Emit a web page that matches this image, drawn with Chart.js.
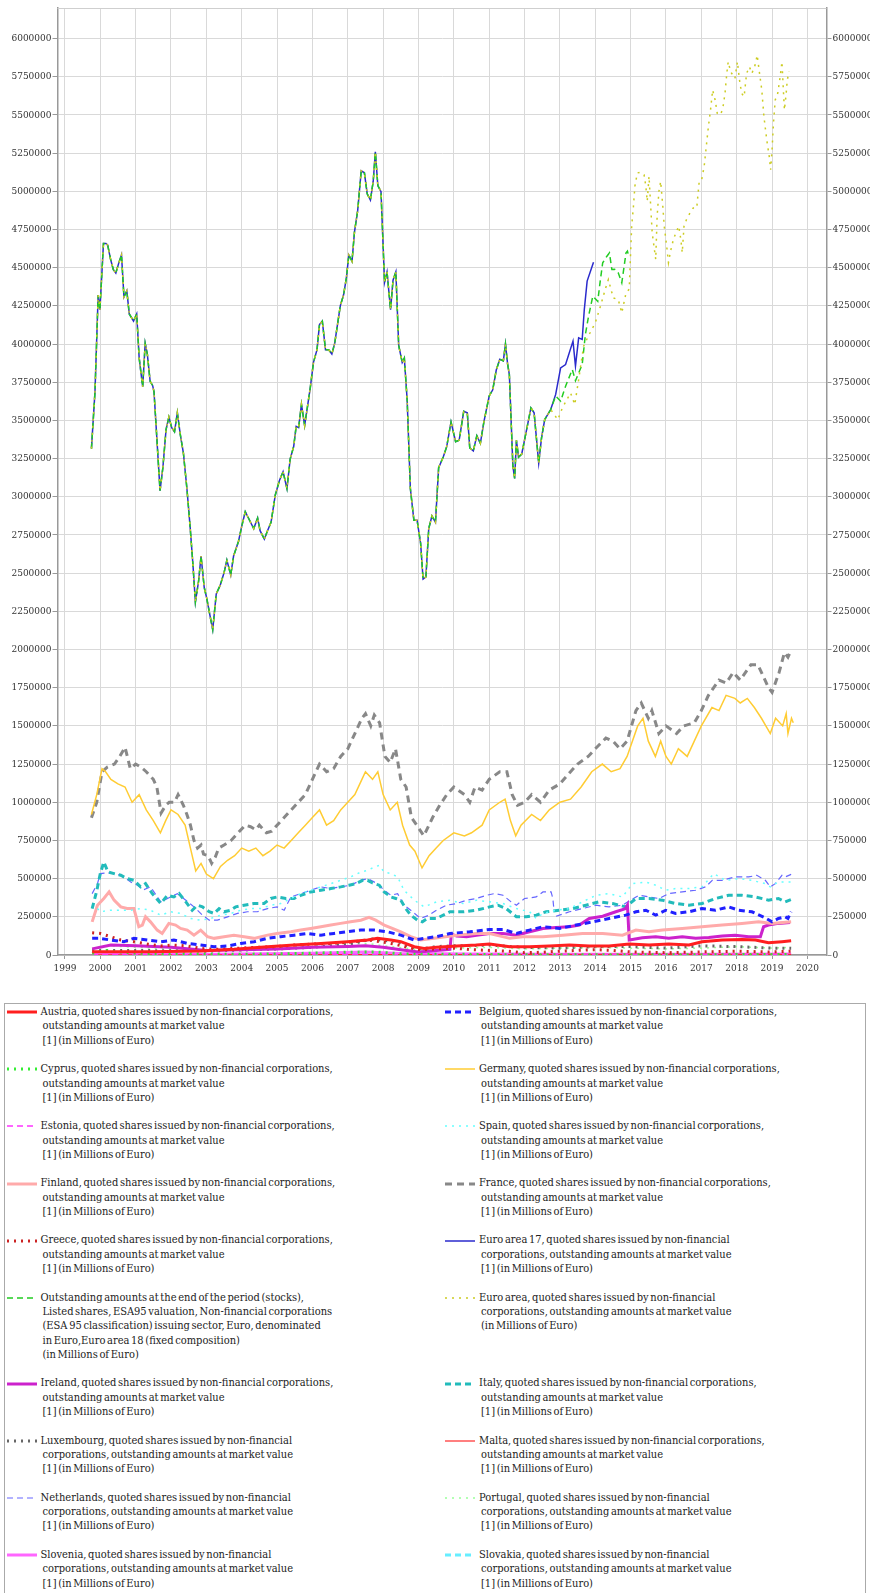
<!DOCTYPE html>
<html><head><meta charset="utf-8">
<script src="https://cdn.jsdelivr.net/npm/chart.js@4.4.1/dist/chart.umd.min.js"></script>
<style>
html,body{margin:0;padding:0;background:#fff;}
#wrap{position:relative;width:870px;height:1593px;overflow:hidden;background:#fff;}
#c{position:absolute;left:0;top:0;}
#legbox{position:absolute;left:4px;top:1003px;width:862px;height:620px;border:1.5px solid #aaa;box-sizing:border-box;}
.lt{position:absolute;font:11px 'DejaVu Serif Condensed','DejaVu Serif',serif;color:#222;line-height:14.4px;white-space:nowrap;word-spacing:-1.5px;}
.lt div+div{padding-left:2px;}
.ls{position:absolute;}
</style></head>
<body><div id="wrap"><canvas id="c" width="870" height="985"></canvas><div id="legbox"></div></div>
<script>
// ---- axis ticks ----
const yearTicks = [1999,2000,2001,2002,2003,2004,2005,2006,2007,2008,2009,2010,2011,2012,2013,2014,2015,2016,2017,2018,2019,2020];
const valueTicks = [0,250000,500000,750000,1000000,1250000,1500000,1750000,2000000,2250000,2500000,2750000,3000000,3250000,3500000,3750000,4000000,4250000,4500000,4750000,5000000,5250000,5500000,5750000,6000000];

// ---- data: [decimal year, millions of euro] ----
const bigShared = [[1999.75,3315000],[1999.85,3687000],[1999.94,4321000],[1999.99,4225000],[2000.09,4658000],[2000.16,4658000],[2000.21,4647000],[2000.29,4556000],[2000.37,4487000],[2000.44,4465000],[2000.52,4528000],[2000.6,4583000],[2000.67,4308000],[2000.75,4349000],[2000.82,4197000],[2000.94,4150000],[2001.03,4197000],[2001.1,3908000],[2001.2,3720000],[2001.27,4004000],[2001.33,3935000],[2001.41,3756000],[2001.48,3729000],[2001.52,3687000],[2001.69,3040000],[2001.77,3190000],[2001.86,3440000],[2001.94,3522000],[2002.02,3453000],[2002.1,3426000],[2002.18,3550000],[2002.26,3412000],[2002.35,3288000],[2002.45,3054000],[2002.54,2806000],[2002.62,2558000],[2002.69,2310000],[2002.78,2447000],[2002.85,2612000],[2002.94,2406000],[2003.01,2337000],[2003.11,2213000],[2003.18,2130000],[2003.28,2364000],[2003.39,2420000],[2003.5,2502000],[2003.58,2585000],[2003.69,2488000],[2003.77,2612000],[2003.91,2709000],[2004.0,2806000],[2004.1,2902000],[2004.19,2861000],[2004.34,2792000],[2004.45,2861000],[2004.52,2778000],[2004.64,2723000],[2004.73,2778000],[2004.83,2833000],[2004.95,3012000],[2005.07,3109000],[2005.17,3164000],[2005.28,3054000],[2005.37,3247000],[2005.47,3329000],[2005.54,3461000],[2005.61,3453000],[2005.69,3605000],[2005.78,3467000],[2005.87,3605000],[2005.94,3715000],[2006.03,3880000],[2006.13,3963000],[2006.2,4128000],[2006.28,4150000],[2006.37,3963000],[2006.46,3963000],[2006.55,3935000],[2006.63,4004000],[2006.71,4128000],[2006.79,4252000],[2006.88,4321000],[2006.96,4432000],[2007.03,4583000],[2007.12,4542000],[2007.19,4735000],[2007.28,4873000],[2007.38,5134000],[2007.47,5121000],[2007.55,4983000],[2007.64,4942000],[2007.72,5066000],[2007.78,5259000],[2007.85,5038000],[2007.94,4997000],[2008.04,4404000],[2008.11,4473000],[2008.21,4225000],[2008.28,4418000],[2008.36,4473000],[2008.44,3991000],[2008.54,3880000],[2008.6,3908000],[2008.68,3632000],[2008.77,3054000],[2008.87,2847000],[2008.96,2847000],[2009.06,2696000],[2009.13,2461000],[2009.21,2475000],[2009.29,2792000],[2009.38,2874000],[2009.48,2833000],[2009.57,3191000],[2009.7,3260000],[2009.8,3330000],[2009.92,3490000],[2010.05,3360000],[2010.15,3370000],[2010.28,3560000],[2010.38,3550000],[2010.45,3320000],[2010.55,3300000],[2010.65,3400000],[2010.75,3350000],[2010.85,3490000],[2011.0,3660000],[2011.1,3700000],[2011.2,3830000],[2011.3,3900000],[2011.4,3890000],[2011.46,4000000],[2011.52,3870000],[2011.57,3800000],[2011.62,3500000],[2011.67,3200000],[2011.72,3120000],[2011.77,3370000],[2011.83,3260000],[2011.92,3280000],[2012.04,3418000],[2012.18,3582000],[2012.27,3550000],[2012.4,3220000],[2012.48,3385000],[2012.57,3505000],[2012.74,3571000]];
const ea17Tail = [[2012.88,3670000],[2013.02,3844000],[2013.16,3866000],[2013.37,4019000],[2013.44,3855000],[2013.53,4040000],[2013.63,4030000],[2013.69,4226000],[2013.77,4412000],[2013.95,4536000]];
const ea18Tail = [[2012.88,3660000],[2013.02,3626000],[2013.16,3724000],[2013.35,3833000],[2013.44,3760000],[2013.63,3866000],[2013.72,4062000],[2013.81,4182000],[2013.93,4313000],[2014.07,4280000],[2014.14,4412000],[2014.21,4532000],[2014.33,4575000],[2014.4,4597000],[2014.47,4488000],[2014.55,4490000],[2014.65,4466000],[2014.75,4401000],[2014.79,4466000],[2014.87,4597000],[2014.91,4608000],[2014.95,4570000]];
const euroAreaTail = [[2012.94,3505000],[2013.07,3582000],[2013.3,3680000],[2013.42,3604000],[2013.53,3767000],[2013.67,3986000],[2013.8,4050000],[2014.0,4139000],[2014.15,4250000],[2014.28,4357000],[2014.37,4422000],[2014.51,4302000],[2014.65,4291000],[2014.75,4204000],[2014.87,4335000],[2014.96,4359000],[2015.0,4598000],[2015.03,4772000],[2015.08,4902000],[2015.12,5033000],[2015.19,5120000],[2015.26,5124000],[2015.38,5109000],[2015.43,5033000],[2015.47,4935000],[2015.52,5098000],[2015.61,4728000],[2015.66,4641000],[2015.71,4554000],[2015.75,4837000],[2015.8,5000000],[2015.85,5065000],[2015.91,4902000],[2015.95,4772000],[2016.02,4641000],[2016.07,4533000],[2016.13,4609000],[2016.21,4685000],[2016.28,4728000],[2016.36,4772000],[2016.42,4685000],[2016.46,4598000],[2016.51,4772000],[2016.58,4815000],[2016.68,4859000],[2016.77,4891000],[2016.87,4891000],[2016.94,5065000],[2017.01,5076000],[2017.08,5163000],[2017.13,5272000],[2017.2,5424000],[2017.26,5533000],[2017.32,5663000],[2017.39,5598000],[2017.45,5511000],[2017.53,5500000],[2017.6,5533000],[2017.67,5641000],[2017.72,5772000],[2017.76,5848000],[2017.83,5783000],[2017.89,5761000],[2017.95,5739000],[2018.02,5848000],[2018.08,5728000],[2018.14,5641000],[2018.21,5620000],[2018.28,5772000],[2018.36,5815000],[2018.43,5772000],[2018.52,5826000],[2018.58,5891000],[2018.64,5783000],[2018.71,5663000],[2018.77,5489000],[2018.85,5337000],[2018.92,5228000],[2018.96,5141000],[2019.0,5272000],[2019.04,5446000],[2019.09,5598000],[2019.16,5641000],[2019.23,5750000],[2019.28,5848000],[2019.32,5663000],[2019.35,5533000],[2019.4,5641000],[2019.43,5728000],[2019.48,5783000]];

const austria = [[1999.77,22000],[2000.48,22000],[2001.42,22000],[2002.84,26000],[2003.78,37000],[2004.73,54000],[2005.48,65000],[2006.24,76000],[2006.99,87000],[2007.56,98000],[2007.84,109000],[2008.22,98000],[2008.5,87000],[2008.88,54000],[2009.16,43000],[2009.51,50000],[2010.08,59000],[2010.64,65000],[2011.01,72000],[2011.58,54000],[2012.14,54000],[2012.7,59000],[2013.27,65000],[2013.83,59000],[2014.39,59000],[2014.96,72000],[2015.52,65000],[2016.08,72000],[2016.65,65000],[2017.02,87000],[2017.59,98000],[2018.15,102000],[2018.53,98000],[2018.9,80000],[2019.28,87000],[2019.54,93000]];
const belgium = [[1999.77,109000],[2000.0,109000],[2000.29,98000],[2000.67,87000],[2000.95,109000],[2001.33,98000],[2001.71,87000],[2002.08,98000],[2002.46,76000],[2002.84,65000],[2003.22,54000],[2003.6,59000],[2003.97,76000],[2004.35,87000],[2004.73,109000],[2005.1,120000],[2005.48,130000],[2005.86,141000],[2006.24,130000],[2006.61,141000],[2006.99,152000],[2007.37,163000],[2007.75,163000],[2008.12,152000],[2008.5,130000],[2008.88,98000],[2009.16,109000],[2009.51,120000],[2009.89,141000],[2010.45,152000],[2011.01,167000],[2011.39,167000],[2011.77,141000],[2012.14,163000],[2012.52,185000],[2012.99,174000],[2013.46,196000],[2013.93,217000],[2014.39,239000],[2014.86,261000],[2015.15,283000],[2015.43,293000],[2015.71,261000],[2015.99,293000],[2016.27,272000],[2016.65,283000],[2017.02,304000],[2017.4,293000],[2017.77,315000],[2018.06,293000],[2018.43,283000],[2018.81,243000],[2019.0,217000],[2019.18,239000],[2019.37,250000],[2019.45,240000],[2019.54,283000]];
const cyprus = [[1999.77,10000],[2000.0,25000],[2000.2,30000],[2000.5,20000],[2001.0,12000],[2002.0,6000],[2003.0,4000],[2004.0,5000],[2005.0,7000],[2006.0,12000],[2007.0,18000],[2007.8,20000],[2008.5,8000],[2009.0,4000],[2010.0,5000],[2011.0,3000],[2012.0,1500],[2013.0,1000],[2014.0,1500],[2015.0,1500],[2016.0,1500],[2017.0,2000],[2018.0,2500],[2019.0,2500],[2019.54,2500]];
const germany = [[1999.75,920000],[1999.9,1050000],[2000.05,1220000],[2000.15,1200000],[2000.3,1150000],[2000.5,1120000],[2000.7,1100000],[2000.9,1000000],[2001.1,1050000],[2001.3,950000],[2001.5,880000],[2001.7,800000],[2001.85,880000],[2002.0,950000],[2002.2,920000],[2002.4,850000],[2002.55,700000],[2002.7,550000],[2002.85,600000],[2003.0,530000],[2003.2,500000],[2003.4,580000],[2003.6,620000],[2003.8,650000],[2004.0,700000],[2004.2,680000],[2004.4,700000],[2004.6,650000],[2004.8,680000],[2005.0,720000],[2005.2,700000],[2005.4,750000],[2005.6,800000],[2005.8,850000],[2006.0,900000],[2006.2,950000],[2006.4,850000],[2006.6,880000],[2006.8,950000],[2007.0,1000000],[2007.2,1050000],[2007.4,1150000],[2007.5,1200000],[2007.7,1150000],[2007.85,1200000],[2008.0,1050000],[2008.2,950000],[2008.4,1000000],[2008.55,850000],[2008.75,720000],[2008.9,680000],[2009.1,570000],[2009.3,650000],[2009.5,700000],[2009.7,750000],[2010.0,800000],[2010.3,780000],[2010.5,800000],[2010.8,850000],[2011.0,950000],[2011.3,1000000],[2011.45,1020000],[2011.6,880000],[2011.75,780000],[2011.9,850000],[2012.2,920000],[2012.45,880000],[2012.7,950000],[2013.0,1000000],[2013.3,1020000],[2013.6,1100000],[2013.9,1200000],[2014.2,1250000],[2014.45,1200000],[2014.7,1220000],[2014.9,1300000],[2015.2,1500000],[2015.35,1550000],[2015.5,1400000],[2015.7,1300000],[2015.85,1400000],[2016.0,1300000],[2016.15,1250000],[2016.35,1350000],[2016.6,1300000],[2016.8,1400000],[2017.0,1500000],[2017.3,1620000],[2017.5,1600000],[2017.7,1700000],[2017.95,1680000],[2018.1,1650000],[2018.3,1680000],[2018.5,1620000],[2018.7,1550000],[2018.95,1450000],[2019.1,1550000],[2019.3,1500000],[2019.4,1580000],[2019.45,1450000],[2019.55,1550000],[2019.6,1520000]];
const estonia = [[1999.77,1500],[2001.0,1500],[2003.0,1500],[2005.0,3000],[2006.0,4000],[2007.0,4500],[2008.0,2500],[2009.0,1500],[2011.0,1500],[2013.0,1500],[2015.0,1500],[2017.0,2000],[2019.0,2000],[2019.54,2000]];
const spain = [[1999.92,304000],[2000.0,283000],[2000.29,293000],[2000.58,293000],[2000.86,293000],[2001.14,304000],[2001.42,293000],[2001.71,261000],[2001.99,283000],[2002.27,272000],[2002.56,239000],[2002.84,228000],[2003.12,239000],[2003.41,261000],[2003.69,272000],[2003.97,293000],[2004.25,304000],[2004.54,304000],[2004.82,326000],[2005.1,337000],[2005.39,370000],[2005.67,402000],[2005.95,424000],[2006.24,446000],[2006.52,467000],[2006.8,489000],[2007.08,511000],[2007.37,543000],[2007.56,554000],[2007.75,576000],[2007.89,587000],[2008.03,543000],[2008.22,533000],[2008.41,511000],[2008.59,424000],[2008.88,359000],[2009.16,315000],[2009.51,348000],[2009.89,359000],[2010.26,337000],[2010.64,359000],[2011.01,348000],[2011.39,337000],[2011.77,304000],[2012.14,283000],[2012.33,239000],[2012.52,272000],[2012.89,293000],[2013.27,304000],[2013.64,348000],[2014.02,391000],[2014.39,402000],[2014.77,380000],[2015.05,467000],[2015.43,478000],[2015.71,457000],[2015.99,424000],[2016.27,435000],[2016.65,435000],[2017.02,446000],[2017.35,533000],[2017.68,489000],[2018.06,500000],[2018.43,489000],[2018.81,467000],[2018.95,446000],[2019.18,478000],[2019.54,478000]];
const finland = [[1999.77,217000],[1999.92,326000],[2000.1,370000],[2000.25,413000],[2000.39,359000],[2000.58,315000],[2000.76,304000],[2000.95,304000],[2001.09,185000],[2001.19,196000],[2001.28,250000],[2001.42,217000],[2001.61,163000],[2001.75,141000],[2001.94,207000],[2002.13,196000],[2002.27,174000],[2002.46,163000],[2002.65,130000],[2002.84,163000],[2003.03,120000],[2003.22,109000],[2003.5,120000],[2003.78,130000],[2004.07,120000],[2004.35,109000],[2004.73,130000],[2005.0,141000],[2005.39,152000],[2005.67,163000],[2005.95,174000],[2006.24,185000],[2006.52,196000],[2006.8,207000],[2007.08,217000],[2007.37,228000],[2007.6,246000],[2007.79,228000],[2008.03,196000],[2008.26,174000],[2008.5,152000],[2008.78,120000],[2009.06,98000],[2009.44,109000],[2010.08,130000],[2010.64,141000],[2011.01,141000],[2011.58,109000],[2011.95,120000],[2012.52,120000],[2013.08,130000],[2013.64,141000],[2014.21,141000],[2014.77,130000],[2015.15,163000],[2015.52,152000],[2015.9,163000],[2016.46,174000],[2017.02,185000],[2017.59,196000],[2018.15,207000],[2018.62,217000],[2019.0,207000],[2019.54,217000]];
const france = [[1999.75,898000],[1999.9,1000000],[2000.05,1200000],[2000.2,1230000],[2000.4,1250000],[2000.55,1300000],[2000.7,1360000],[2000.85,1220000],[2001.0,1250000],[2001.15,1230000],[2001.3,1200000],[2001.5,1150000],[2001.6,1100000],[2001.72,930000],[2001.85,980000],[2001.95,1000000],[2002.1,1000000],[2002.2,1050000],[2002.35,980000],[2002.45,920000],[2002.55,850000],[2002.65,750000],[2002.75,700000],[2002.85,720000],[2002.92,660000],[2003.05,650000],[2003.15,600000],[2003.25,640000],[2003.35,700000],[2003.5,720000],[2003.7,750000],[2003.9,800000],[2004.1,850000],[2004.25,840000],[2004.4,820000],[2004.5,850000],[2004.7,800000],[2004.85,810000],[2005.0,850000],[2005.2,900000],[2005.4,950000],[2005.6,1000000],[2005.8,1050000],[2006.0,1150000],[2006.2,1250000],[2006.4,1200000],[2006.6,1220000],[2006.8,1300000],[2007.0,1350000],[2007.2,1450000],[2007.4,1550000],[2007.5,1580000],[2007.65,1500000],[2007.75,1570000],[2007.9,1520000],[2008.05,1300000],[2008.2,1260000],[2008.35,1350000],[2008.5,1150000],[2008.65,1100000],[2008.8,900000],[2008.95,850000],[2009.15,780000],[2009.4,900000],[2009.6,980000],[2009.8,1050000],[2010.0,1100000],[2010.3,1050000],[2010.45,1000000],[2010.6,1100000],[2010.8,1080000],[2011.0,1150000],[2011.3,1200000],[2011.5,1200000],[2011.65,1050000],[2011.8,980000],[2012.0,1000000],[2012.2,1050000],[2012.45,1000000],[2012.7,1080000],[2013.0,1120000],[2013.3,1200000],[2013.5,1250000],[2013.8,1300000],[2014.0,1350000],[2014.3,1420000],[2014.5,1400000],[2014.7,1350000],[2014.9,1400000],[2015.15,1600000],[2015.3,1650000],[2015.5,1550000],[2015.6,1600000],[2015.8,1450000],[2016.0,1500000],[2016.3,1450000],[2016.5,1500000],[2016.8,1520000],[2017.0,1600000],[2017.2,1700000],[2017.5,1800000],[2017.7,1780000],[2017.9,1850000],[2018.1,1800000],[2018.4,1900000],[2018.6,1900000],[2018.9,1750000],[2019.0,1720000],[2019.2,1850000],[2019.35,1980000],[2019.45,1950000],[2019.55,2000000]];
const greece = [[1999.77,146000],[2000.0,141000],[2000.29,120000],[2000.58,98000],[2000.95,87000],[2001.33,72000],[2001.71,59000],[2002.08,65000],[2002.46,59000],[2002.84,43000],[2003.22,37000],[2003.78,43000],[2004.35,50000],[2004.92,54000],[2005.48,65000],[2006.05,72000],[2006.61,76000],[2007.18,87000],[2007.56,98000],[2007.93,87000],[2008.31,72000],[2008.69,50000],[2009.06,33000],[2009.5,40000],[2010.0,45000],[2010.5,35000],[2011.0,30000],[2011.5,25000],[2012.0,15000],[2012.5,18000],[2013.0,25000],[2014.0,35000],[2014.5,30000],[2015.0,20000],[2015.5,18000],[2016.0,15000],[2017.0,20000],[2018.0,25000],[2018.9,20000],[2019.54,25000]];
const ireland = [[1999.77,40000],[2000.3,65000],[2001.0,60000],[2002.0,50000],[2003.0,30000],[2004.0,35000],[2005.0,40000],[2006.0,50000],[2007.0,55000],[2007.5,60000],[2008.0,50000],[2008.5,35000],[2009.0,20000],[2009.5,30000],[2009.89,37000],[2009.93,137000],[2010.08,124000],[2010.36,120000],[2010.64,130000],[2011.01,141000],[2011.39,141000],[2011.77,130000],[2012.14,152000],[2012.52,174000],[2012.89,180000],[2013.27,185000],[2013.55,196000],[2013.83,239000],[2014.21,254000],[2014.58,283000],[2014.86,304000],[2014.91,326000],[2014.96,98000],[2015.05,102000],[2015.33,113000],[2015.71,120000],[2016.08,109000],[2016.46,120000],[2016.84,109000],[2017.21,115000],[2017.59,124000],[2017.96,130000],[2018.34,120000],[2018.67,120000],[2018.76,185000],[2018.9,196000],[2019.18,207000],[2019.51,213000]];
const italy = [[1999.77,304000],[1999.9,420000],[2000.0,533000],[2000.1,609000],[2000.22,543000],[2000.39,533000],[2000.58,522000],[2000.76,500000],[2000.95,489000],[2001.14,446000],[2001.28,467000],[2001.47,402000],[2001.71,337000],[2001.9,391000],[2002.08,380000],[2002.23,402000],[2002.42,348000],[2002.6,293000],[2002.75,326000],[2002.89,315000],[2003.08,283000],[2003.22,272000],[2003.36,304000],[2003.5,283000],[2003.69,293000],[2003.83,315000],[2004.07,326000],[2004.35,337000],[2004.63,337000],[2004.82,370000],[2005.0,380000],[2005.25,370000],[2005.48,370000],[2005.67,391000],[2005.95,413000],[2006.24,424000],[2006.52,435000],[2006.8,446000],[2007.04,457000],[2007.23,467000],[2007.42,489000],[2007.56,489000],[2007.7,472000],[2007.89,457000],[2008.03,413000],[2008.22,380000],[2008.36,370000],[2008.5,359000],[2008.64,304000],[2008.78,261000],[2008.97,228000],[2009.11,217000],[2009.25,239000],[2009.51,239000],[2009.89,283000],[2010.26,283000],[2010.64,293000],[2011.01,315000],[2011.25,326000],[2011.48,304000],[2011.77,250000],[2012.05,250000],[2012.33,261000],[2012.61,283000],[2012.99,293000],[2013.36,304000],[2013.74,326000],[2014.11,348000],[2014.49,337000],[2014.86,315000],[2015.15,370000],[2015.52,370000],[2015.9,359000],[2016.27,337000],[2016.65,326000],[2017.02,337000],[2017.4,370000],[2017.77,391000],[2018.15,391000],[2018.53,380000],[2018.9,359000],[2019.18,370000],[2019.37,348000],[2019.54,363000]];
const luxembourg = [[1999.77,30000],[2001.0,30000],[2003.0,25000],[2005.0,40000],[2006.0,50000],[2007.0,70000],[2007.7,105000],[2008.0,95000],[2008.4,90000],[2008.8,50000],[2009.1,40000],[2009.5,55000],[2010.0,60000],[2011.0,65000],[2012.0,50000],[2013.0,45000],[2014.0,55000],[2015.0,55000],[2016.0,45000],[2017.0,60000],[2018.0,55000],[2019.0,45000],[2019.54,45000]];
const malta = [[1999.77,1500],[2003.0,1500],[2007.0,3000],[2010.0,2500],[2015.0,3500],[2019.54,4500]];
const netherlands = [[1999.77,402000],[1999.92,467000],[2000.0,533000],[2000.2,539000],[2000.43,533000],[2000.67,511000],[2000.86,478000],[2001.05,457000],[2001.24,428000],[2001.42,446000],[2001.71,348000],[2001.99,380000],[2002.18,402000],[2002.42,359000],[2002.65,315000],[2002.89,261000],[2003.08,228000],[2003.31,228000],[2003.6,250000],[2003.88,272000],[2004.16,283000],[2004.44,283000],[2004.73,304000],[2005.0,315000],[2005.2,293000],[2005.39,380000],[2005.67,402000],[2005.95,424000],[2006.24,446000],[2006.52,435000],[2006.8,446000],[2007.08,457000],[2007.37,489000],[2007.56,500000],[2007.84,467000],[2008.03,424000],[2008.22,391000],[2008.41,402000],[2008.59,326000],[2008.78,293000],[2009.06,239000],[2009.3,261000],[2009.51,293000],[2009.79,326000],[2010.08,337000],[2010.36,359000],[2010.64,370000],[2010.92,391000],[2011.15,402000],[2011.39,391000],[2011.62,348000],[2011.77,326000],[2012.0,370000],[2012.33,380000],[2012.52,413000],[2012.75,413000],[2012.8,370000],[2012.83,300000],[2012.86,null],[2012.89,254000],[2013.27,283000],[2013.64,304000],[2014.02,326000],[2014.39,315000],[2014.77,326000],[2015.0,359000],[2015.24,391000],[2015.52,380000],[2015.8,370000],[2016.08,402000],[2016.46,413000],[2016.84,424000],[2017.12,446000],[2017.31,489000],[2017.59,489000],[2017.96,511000],[2018.34,511000],[2018.57,522000],[2018.81,489000],[2018.95,446000],[2019.09,467000],[2019.28,522000],[2019.37,511000],[2019.54,528000]];
const portugal = [[1999.77,40000],[2000.0,55000],[2000.3,60000],[2001.0,50000],[2002.0,40000],[2003.0,35000],[2004.0,40000],[2005.0,45000],[2006.0,55000],[2007.0,70000],[2007.6,75000],[2008.0,60000],[2008.8,40000],[2009.1,35000],[2010.0,45000],[2011.0,50000],[2012.0,40000],[2013.0,45000],[2014.0,50000],[2015.0,45000],[2016.0,40000],[2017.0,45000],[2018.0,55000],[2019.0,45000],[2019.54,50000]];
const slovenia = [[1999.77,3000],[2002.0,4000],[2004.0,6000],[2006.0,12000],[2007.5,20000],[2008.5,10000],[2009.5,8000],[2010.45,7000],[2011.0,6000],[2013.0,5000],[2015.0,5000],[2017.0,5000],[2019.54,6000]];
const slovakia = [[1999.77,1000],[2005.0,2000],[2010.0,3000],[2015.0,3500],[2019.54,3500]];

// ---- legend text ----
const tailStd = ['outstanding amounts at market value','[1] (in Millions of Euro)'];
const tailAlt = ['corporations, outstanding amounts at market value','[1] (in Millions of Euro)'];
const std = c => [c + ', quoted shares issued by non-financial corporations,'].concat(tailStd);
const alt = c => [c + ', quoted shares issued by non-financial'].concat(tailAlt);
const lblEA18 = ['Outstanding amounts at the end of the period (stocks),','Listed shares, ESA95 valuation, Non-financial corporations','(ESA 95 classification) issuing sector, Euro, denominated','in Euro,Euro area 18 (fixed composition)','(in Millions of Euro)'];
const lblEA = ['Euro area, quoted shares issued by non-financial','corporations, outstanding amounts at market value','(in Millions of Euro)'];

// ---- styles ----
const SOLID = [], DASH = [6,4], DOT = [2,5];
const specs = [
  {lines: std('Austria'), data: austria, color:'#ff1f1f', w:3, dash:SOLID},
  {lines: std('Belgium'), data: belgium, color:'#2020ff', w:3, dash:DASH},
  {lines: std('Cyprus'), data: cyprus, color:'#33ee33', w:3, dash:DOT},
  {lines: std('Germany'), data: germany, color:'#ffcc33', w:1.5, dash:SOLID},
  {lines: std('Estonia'), data: estonia, color:'#ff33ff', w:1.5, dash:DASH},
  {lines: std('Spain'), data: spain, color:'#66ffff', w:1.5, dash:DOT},
  {lines: std('Finland'), data: finland, color:'#ffaaaa', w:3, dash:SOLID},
  {lines: std('France'), data: france, color:'#888888', w:3, dash:[7,5]},
  {lines: std('Greece'), data: greece, color:'#cc2222', w:3, dash:DOT},
  {lines: alt('Euro area 17'), data: bigShared.concat(ea17Tail), color:'#2a2acc', w:1.5, dash:SOLID, order:2},
  {lines: lblEA18, data: bigShared.concat(ea18Tail), color:'#22cc22', w:1.5, dash:DASH, order:1},
  {lines: lblEA, data: bigShared.concat(euroAreaTail), color:'#cccc22', w:1.5, dash:DOT, order:0},
  {lines: std('Ireland'), data: ireland, color:'#cc22cc', w:3, dash:SOLID},
  {lines: std('Italy'), data: italy, color:'#22bbbb', w:3, dash:DASH},
  {lines: alt('Luxembourg'), data: luxembourg, color:'#666666', w:3, dash:DOT},
  {lines: std('Malta'), data: malta, color:'#ff2a2a', w:1.2, dash:SOLID},
  {lines: alt('Netherlands'), data: netherlands, color:'#6666ff', w:1.2, dash:DASH},
  {lines: alt('Portugal'), data: portugal, color:'#99ff99', w:1.5, dash:DOT},
  {lines: alt('Slovenia'), data: slovenia, color:'#ff66ff', w:3, dash:SOLID},
  {lines: alt('Slovakia'), data: slovakia, color:'#66eeff', w:3, dash:DASH}
];

const FONT = "'DejaVu Serif Condensed', 'DejaVu Serif', serif";
Chart.defaults.font.family = FONT;
Chart.defaults.font.size = 10;
Chart.defaults.color = '#333';

const datasets = specs.map((s, i) => ({
  label: s.lines.join(' '),
  data: s.data.map(p => ({x: p[0], y: p[1]})),
  borderColor: s.color, backgroundColor: s.color,
  borderWidth: s.w, borderDash: s.dash,
  pointRadius: 0, pointHoverRadius: 0, tension: 0, fill: false, spanGaps: false,
  order: s.order !== undefined ? s.order : 3 + i
}));

const frame = {
  id: 'frame',
  beforeDatasetsDraw(chart) {
    const a = chart.chartArea, ctx = chart.ctx;
    ctx.save(); ctx.strokeStyle = '#cfcfcf'; ctx.lineWidth = 1;
    ctx.beginPath(); ctx.moveTo(a.left, a.top + 0.5); ctx.lineTo(a.right, a.top + 0.5); ctx.stroke();
    ctx.restore();
  }
};

const yMax = 6200000;
const setValueTicks = s => { s.ticks = valueTicks.map(v => ({value: v})); };
new Chart(document.getElementById('c'), {
  type: 'line',
  data: { datasets },
  plugins: [frame],
  options: {
    responsive: false, animation: false, devicePixelRatio: 1,
    layout: { padding: { top: 8, left: 0, right: 0, bottom: 0 } },
    plugins: { legend: { display: false }, tooltip: { enabled: false } },
    scales: {
      x: {
        type: 'linear', min: 1998.79, max: 2020.54,
        afterFit: s => { s.height = 30; },
        afterBuildTicks: s => { s.ticks = yearTicks.map(v => ({value: v})); },
        ticks: { autoSkip: false, maxRotation: 0, padding: 3, color: '#333', callback: v => String(v) },
        grid: { color: '#d9d9d9', lineWidth: 1, tickLength: 4, tickColor: '#999' },
        border: { color: '#999', width: 1.5 }
      },
      y: {
        position: 'left', min: 0, max: yMax,
        afterFit: s => { s.width = 57.5; },
        afterBuildTicks: setValueTicks,
        ticks: { autoSkip: false, padding: 1, color: '#333', callback: v => String(v) },
        grid: { color: '#d9d9d9', lineWidth: 1, tickLength: 5, tickColor: '#999' },
        border: { color: '#999', width: 1.5 }
      },
      y2: {
        position: 'right', min: 0, max: yMax,
        afterFit: s => { s.width = 43.5; },
        afterBuildTicks: setValueTicks,
        ticks: { autoSkip: false, padding: 1, color: '#333', callback: v => String(v) },
        grid: { drawOnChartArea: false, tickLength: 5, tickColor: '#999' },
        border: { color: '#999', width: 1.5 }
      }
    }
  }
});

// ---- HTML legend built from the datasets ----
(function buildLegend() {
  const wrap = document.getElementById('wrap');
  const LH = 14.4, GAP = 13.9;
  const colSym = [7, 445], colTxt = [40.5, 479];
  let top = 1005;
  for (let r = 0; r * 2 < specs.length; r++) {
    const pair = specs.slice(r * 2, r * 2 + 2);
    pair.forEach((s, c) => {
      const ns = 'http://www.w3.org/2000/svg';
      const svg = document.createElementNS(ns, 'svg');
      svg.setAttribute('width', '30'); svg.setAttribute('height', '14');
      svg.setAttribute('class', 'ls');
      svg.style.left = colSym[c] + 'px'; svg.style.top = (top + LH / 2 - 7) + 'px';
      const ln = document.createElementNS(ns, 'line');
      ln.setAttribute('x1', '0'); ln.setAttribute('x2', '30');
      ln.setAttribute('y1', '7'); ln.setAttribute('y2', '7');
      ln.setAttribute('stroke', s.color);
      ln.setAttribute('stroke-width', String(Math.max(1, s.w)));
      if (s.dash.length) ln.setAttribute('stroke-dasharray', s.dash.join(' '));
      svg.appendChild(ln); wrap.appendChild(svg);
      const t = document.createElement('div');
      t.className = 'lt'; t.style.left = colTxt[c] + 'px'; t.style.top = top + 'px';
      s.lines.forEach(l => { const d = document.createElement('div'); d.textContent = l; t.appendChild(d); });
      wrap.appendChild(t);
    });
    const n = Math.max.apply(null, pair.map(s => s.lines.length));
    top += n * LH + GAP;
  }
})();
</script></body></html>
